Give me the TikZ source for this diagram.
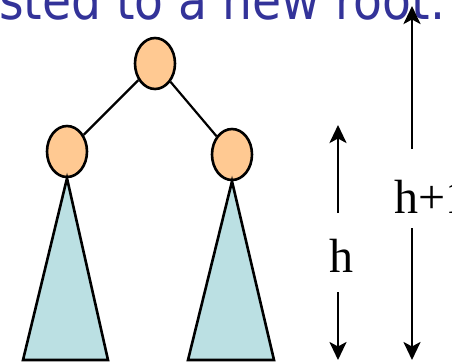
\documentclass[tikz,border=0pt]{standalone}
\usepackage{fontspec}
\setmainfont{Liberation Serif}
\newfontfamily\titlefont{DejaVu Sans}
\usetikzlibrary{shapes.geometric,arrows.meta}
\definecolor{nodePeach}{HTML}{FFC992}
\definecolor{treeTeal}{HTML}{BBE0E3}
\definecolor{titleBlue}{HTML}{333399}
\begin{document}
\begin{tikzpicture}[x=1pt, y=-1pt,
    hgtNode/.style={draw, ellipse, fill=nodePeach, line width=2.6pt, minimum width=40pt, minimum height=51pt, inner sep=0pt},
    hgtTri/.style={draw, fill=treeTeal, line width=2.6pt},
    hgtEdge/.style={line width=2.2pt},
    hgtArrow/.style={-{Stealth[length=18pt, width=17pt, inset=4.5pt]}, line width=2.8pt},
    hgtLabel/.style={font=\fontsize{48}{50}\selectfont, inner sep=0pt}]

    \useasboundingbox (0,0) rectangle (452,362);
    \clip (0,0) rectangle (452,362);

    \node[font=\titlefont\fontsize{54}{64}\selectfont, text=titleBlue, anchor=base west, inner sep=0pt] (title) at (-1,19) {\scalebox{0.875}[1]{sted to a new root.}};

    % tree
    \node[hgtNode] (root) at (155,63.5) {};
    \node[hgtNode] (left) at (67,151.5) {};
    \node[hgtNode] (right) at (232,154.5) {};

    \draw[hgtEdge] (root) -- (left);
    \draw[hgtEdge] (root) -- (right);

    \draw[hgtTri] (left.south) -- (23,360) -- (108,360) -- cycle;
    \draw[hgtTri] (right.south) -- (188,360) -- (274,360) -- cycle;

    % heights
    \node[hgtLabel] (hLabel) at (341,256) {h};
    \node[hgtLabel, anchor=west] (hhLabel) at (394,197) {h+1};

    \coordinate (hTop) at (338,125);
    \coordinate (hUp) at (338,213);
    \coordinate (hDown) at (338,292);
    \coordinate (hBot) at (338,360);
    \coordinate (hhTop) at (412,6);
    \coordinate (hhUp) at (412,149);
    \coordinate (hhDown) at (412,228);
    \coordinate (hhBot) at (412,360);

    \draw[hgtArrow] (hUp) -- (hTop);
    \draw[hgtArrow] (hDown) -- (hBot);
    \draw[hgtArrow] (hhUp) -- (hhTop);
    \draw[hgtArrow] (hhDown) -- (hhBot);
\end{tikzpicture}
\end{document}
